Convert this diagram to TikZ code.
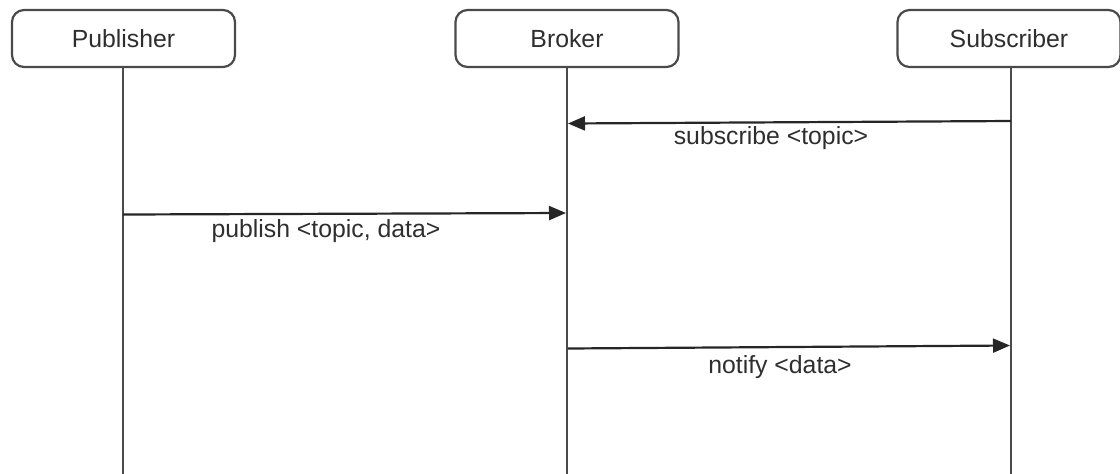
\documentclass[tikz,border=0pt]{standalone}
\usepackage{fontspec}
\setmainfont{Liberation Sans}
\usetikzlibrary{arrows.meta}
\definecolor{linegray}{HTML}{4A4A4A}
\definecolor{textgray}{HTML}{2E2E2E}
\tikzset{
  actor/.style={draw=linegray, line width=1.1pt, rounded corners=6pt, minimum width=111.5pt, minimum height=28.5pt, inner sep=0pt, text=textgray, font=\fontsize{12.4}{14}\selectfont},
  lifeline/.style={draw=linegray, line width=1.1pt},
  msg/.style={draw=black!85, line width=1.1pt, -{Triangle[length=8.5pt,width=7pt]}},
  msglabel/.style={text=textgray, font=\fontsize{12.4}{14}\selectfont, inner sep=0pt}
}
\begin{document}
\begin{tikzpicture}[x=0.5pt,y=-0.5pt]
\useasboundingbox (0,0) rectangle (1120,473);
% actors
\node[actor] (pub) at (123.5,38.5) {Publisher};
\node[actor] (bro) at (567,38.5) {Broker};
\node[actor] (sub) at (1009,38.5) {Subscriber};
% lifeline ends
\coordinate (pubend) at (123,475);
\coordinate (broend) at (567,475);
\coordinate (subend) at (1011,475);
\draw[lifeline] (pub.south -| pubend) -- (pubend);
\draw[lifeline] (bro.south -| broend) -- (broend);
\draw[lifeline] (sub.south -| subend) -- (subend);
% message anchors
\coordinate (s1) at (1011,121);
\coordinate (b1) at (568,123.5);
\coordinate (p2) at (123,214.5);
\coordinate (b2) at (566,213);
\coordinate (b3) at (568,348.5);
\coordinate (s3) at (1010,345.5);
% messages
\draw[msg] (s1) -- (b1);
\node[msglabel] (l1) at (771,138) {subscribe <topic>};
\draw[msg] (p2) -- (b2);
\node[msglabel] (l2) at (326,231) {publish <topic, data>};
\draw[msg] (b3) -- (s3);
\node[msglabel] (l3) at (780,367) {notify <data>};
\end{tikzpicture}
\end{document}
